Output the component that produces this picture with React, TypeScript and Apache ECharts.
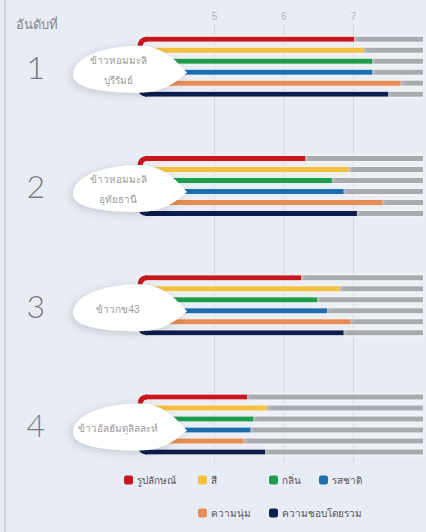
import React, { useEffect, useRef } from 'react';
import * as echarts from 'echarts';

// ---- data ----
const ranks = ['1', '2', '3', '4'];
const varieties = ['ข้าวหอมมะลิ\nบุรีรัมย์', 'ข้าวหอมมะลิ\nอุทัยธานี', 'ข้าวกข43', 'ข้าวอัลฮัมดุลิลละห์'];
const metricNames = ['รูปลักษณ์', 'สี', 'กลิ่น', 'รสชาติ', 'ความนุ่ม', 'ความชอบโดยรวม'];
const appearance = [7.01, 6.31, 6.25, 5.47];
const colour = [7.15, 6.93, 6.8, 5.75];
const aroma = [7.27, 6.69, 6.48, 5.56];
const taste = [7.27, 6.86, 6.62, 5.52];
const softness = [7.68, 7.42, 6.96, 5.42];
const overall = [7.5, 7.05, 6.86, 5.73];
const xTicks = [5, 6, 7];
const axisMin = 4;
const axisMax = 8;

const metricValues = [appearance, colour, aroma, taste, softness, overall];
const metricColors = ['#c8161d', '#f3c13f', '#1f9d4b', '#1f6eae', '#e68d57', '#0e1f50'];
const glowColors = ['#fde9ea', '#fff6dc', '#e6f7ec', '#dff4fb', '#fdeee3', '#e8ecf6'];
const legendPos = [
  [124, 475],
  [198, 475],
  [269, 475],
  [319, 475],
  [198, 508],
  [269, 508],
];

// leaf-shaped label background, relative to the group anchor
const leafPath =
  'M -72 8 C -72 -10 -40 -21 -5 -21 C 15 -21 30 -8 42 6 C 30 17 15 26 -5 26 C -40 26 -72 22 -72 8 Z';

export default function App() {
  const ref = useRef<HTMLDivElement>(null);
  useEffect(() => {
    const chart = echarts.init(ref.current!, null, { renderer: 'svg' });
    const series: any[] = [];
    metricNames.forEach((name, k) => {
      series.push({
        name,
        type: 'bar',
        stack: 's' + k,
        data: metricValues[k],
        barWidth: 5,
        barGap: '120%',
        itemStyle: { color: metricColors[k], shadowBlur: 5, shadowColor: glowColors[k] },
        z: 3,
        silent: true,
      });
      series.push({
        name: 'rest' + k,
        type: 'bar',
        stack: 's' + k,
        data: metricValues[k].map((v) => axisMax + 2 - v),
        barWidth: 5,
        barGap: '120%',
        itemStyle: { color: '#a9aaaf', shadowBlur: 4, shadowColor: 'rgba(255,255,255,0.9)' },
        z: 2,
        silent: true,
      });
    });
    // vertical gridlines
    series.push({
      type: 'custom',
      z: 1,
      silent: true,
      data: xTicks.map((v) => [v, 0]),
      encode: { x: 0, y: 1 },
      renderItem: (params: any, api: any) => {
        const t = api.coord([api.value(0), 0]);
        const b = api.coord([api.value(0), ranks.length - 1]);
        return {
          type: 'line',
          shape: { x1: t[0], y1: t[1] - 42, x2: t[0], y2: b[1] + 38 },
          style: { stroke: '#d3d8e1', lineWidth: 1 },
        };
      },
    });
    // variety labels (white leaf shapes) + bracket ends
    series.push({
      type: 'custom',
      z: 10,
      silent: true,
      clip: false,
      data: ranks.map((_, i) => [axisMin, i]),
      encode: { x: 0, y: 1 },
      renderItem: (params: any, api: any) => {
        const p = api.coord([api.value(0), api.value(1)]);
        const name = varieties[params.dataIndex];
        const top = p[1] - 27.5;
        const bot = p[1] + 27.5;
        return {
          type: 'group',
          children: [
            {
              type: 'bezierCurve',
              shape: { x1: p[0] + 2, y1: top, cpx1: p[0] - 5, cpy1: top, x2: p[0] - 5, y2: top + 8 },
              style: { stroke: metricColors[0], lineWidth: 5, fill: 'none' },
            },
            {
              type: 'bezierCurve',
              shape: { x1: p[0] + 2, y1: bot, cpx1: p[0] - 5, cpy1: bot, x2: p[0] - 5, y2: bot - 8 },
              style: { stroke: metricColors[5], lineWidth: 5, fill: 'none' },
            },
            {
              type: 'path',
              x: p[0],
              y: p[1],
              shape: { pathData: leafPath },
              style: {
                fill: '#ffffff',
                shadowBlur: 8,
                shadowColor: 'rgba(0,0,0,0.16)',
                shadowOffsetX: -2,
                shadowOffsetY: 2,
              },
            },
            {
              type: 'text',
              x: p[0] - 27,
              y: p[1] + 4,
              style: {
                text: name,
                fill: '#9a9a9a',
                fontSize: 10,
                lineHeight: 20,
                align: 'center',
                verticalAlign: 'middle',
                fontFamily: 'sans-serif',
              },
            },
          ],
        };
      },
    });

    chart.setOption({
      animation: false,
      backgroundColor: '#e8edf5',
      title: {
        text: 'อันดับที่',
        left: 11,
        top: 13,
        textStyle: { fontSize: 13, fontWeight: 'normal', color: '#858585', fontFamily: 'sans-serif' },
      },
      legend: metricNames.map((n, k) => ({
        data: [n],
        left: legendPos[k][0],
        top: legendPos[k][1],
        padding: 0,
        icon: 'roundRect',
        itemWidth: 9,
        itemHeight: 9,
        selectedMode: false,
        textStyle: { fontSize: 10, color: '#555', fontFamily: 'sans-serif', padding: [0, 0, 0, -1] },
      })),
      grid: { left: 145, right: -2, top: 7, bottom: 48, containLabel: false },
      xAxis: {
        type: 'value',
        position: 'top',
        offset: -18,
        min: axisMin,
        max: axisMax,
        interval: 1,
        splitLine: { show: false },
        axisLine: { show: false },
        axisTick: { show: false },
        axisLabel: {
          color: '#b0b4bb',
          fontSize: 10,
          margin: 4,
          formatter: (v: number) => (xTicks.indexOf(v) >= 0 ? String(v) : ''),
        },
      },
      yAxis: {
        type: 'category',
        data: ranks,
        inverse: true,
        axisLine: { show: false },
        axisTick: { show: false },
        splitLine: { show: false },
        axisLabel: {
          margin: 100,
          fontSize: 32,
          fontWeight: 300,
          color: '#7a7a7a',
          fontFamily: 'Lato, sans-serif',
        },
      },
      graphic: [
        {
          type: 'line',
          shape: { x1: 5, y1: 0, x2: 5, y2: 532 },
          style: { stroke: '#c6cbd3', lineWidth: 1.5 },
        },
      ],
      series,
    });
    return () => chart.dispose();
  }, []);
  return (
    <div
      ref={ref}
      style={{ position: 'fixed', left: 0, top: 0, width: 426, height: 532 }}
    />
  );
}
